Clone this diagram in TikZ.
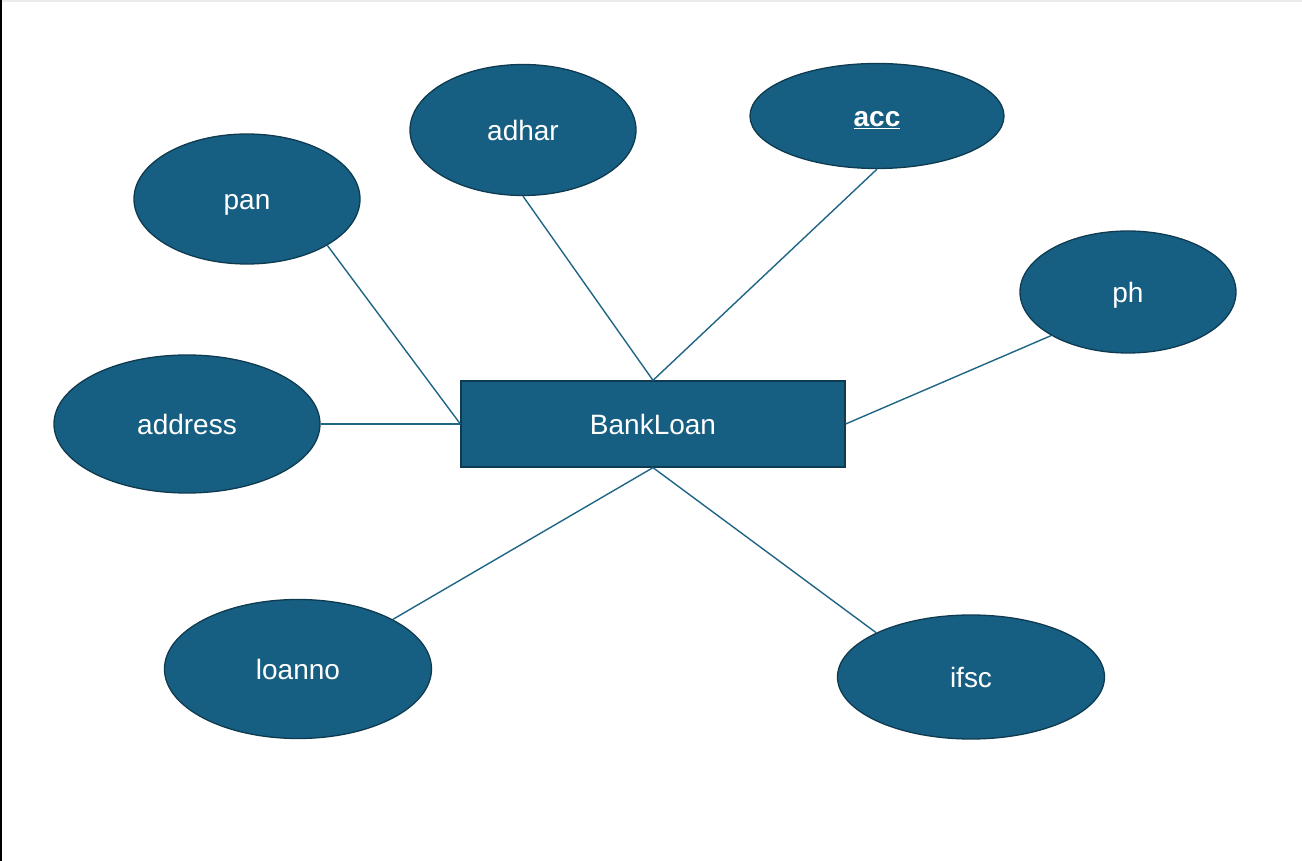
\documentclass[tikz,border=0pt]{standalone}
\usepackage{fontspec}
\setmainfont{Liberation Sans}
\usetikzlibrary{shapes.geometric, positioning}

\definecolor{attrfill}{HTML}{175F82}
\definecolor{attrdraw}{HTML}{0E3B50}
\definecolor{linkcol}{HTML}{1F6585}

\begin{document}
\begin{tikzpicture}[x=1pt, y=1pt, semithick,
    attr/.style={ellipse, fill=attrfill, draw=attrdraw, line width=1.3pt, inner sep=0pt,
        text=white, text height=21pt, text depth=0pt, font=\fontsize{28}{32}\selectfont},
    entity/.style={rectangle, fill=attrfill, draw=attrdraw, line width=1.3pt, inner sep=0pt,
        minimum width=384pt, minimum height=86pt, text=white, text height=21pt, text depth=0pt,
        font=\fontsize{28}{32}\selectfont},
    link/.style={draw=linkcol, line width=1.4pt}]
    % frame of the screenshot
    \useasboundingbox (-653,-437) rectangle (649,424);
    \fill[black] (-653,-437) rectangle (-651,424);
    \fill[black!8] (-651,422) rectangle (649,424);

    \node[entity] (bankloan) at (0,0) {BankLoan};
    \node[attr, minimum width=226pt, minimum height=130pt] (pan) at (-406,225) {pan};
    \node[attr, minimum width=226pt, minimum height=131pt] (adhar) at (-130,294) {adhar};
    \node[attr, minimum width=254pt, minimum height=105pt] (acc) at (224,308) {\underline{\textbf{acc}}};
    \node[attr, minimum width=216pt, minimum height=122pt] (ph) at (475,132) {ph};
    \node[attr, minimum width=266pt, minimum height=138pt] (address) at (-466,0) {address};
    \node[attr, minimum width=267pt, minimum height=139pt] (loanno) at (-355,-245) {loanno};
    \node[attr, minimum width=267pt, minimum height=124pt] (ifsc) at (318,-253) {ifsc};

    \path[link]
    (pan.south east) edge (bankloan.west)
    (adhar.south) edge (bankloan.north)
    (acc.south) edge (bankloan.north)
    (ph.south west) edge (bankloan.east)
    (address.east) edge (bankloan.west)
    (loanno.north east) edge (bankloan.south)
    (ifsc.north west) edge (bankloan.south);
\end{tikzpicture}
\end{document}
